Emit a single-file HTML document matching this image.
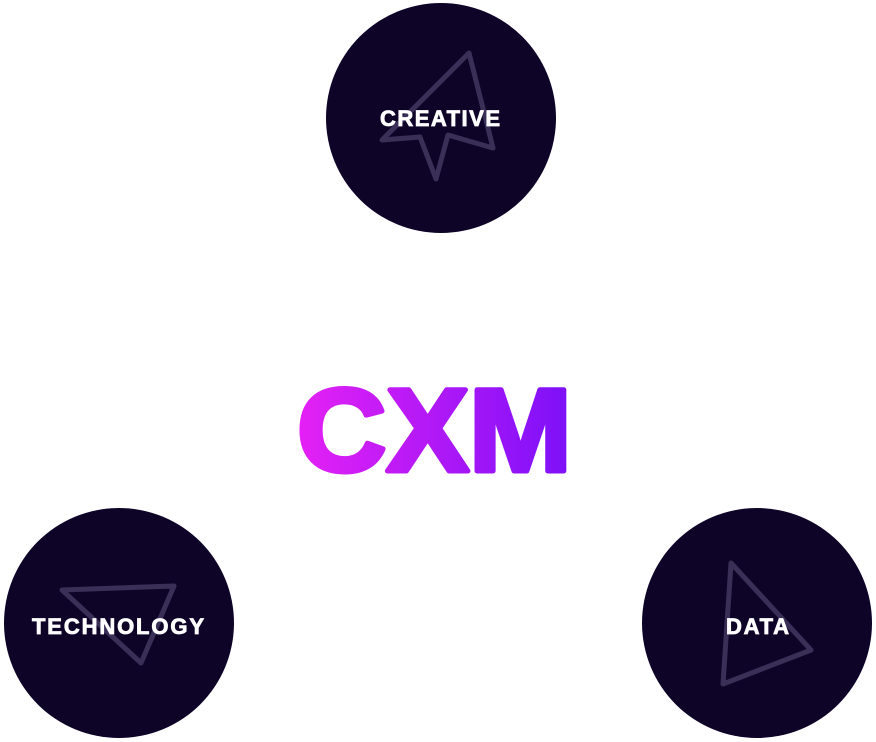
<!DOCTYPE html>
<html><head><meta charset="utf-8"><style>
html,body{margin:0;padding:0;background:#fff;width:876px;height:742px;overflow:hidden}
</style></head><body>
<svg width="876" height="742" viewBox="0 0 876 742" xmlns="http://www.w3.org/2000/svg">
<defs>
<linearGradient id="g" x1="296" y1="0" x2="572" y2="0" gradientUnits="userSpaceOnUse">
<stop offset="0" stop-color="#e521f5"/><stop offset="1" stop-color="#7c10f8"/>
</linearGradient>
</defs>
<circle cx="441" cy="118" r="115" fill="#0e0428"/>
<circle cx="119" cy="623" r="115" fill="#0e0428"/>
<circle cx="757" cy="623" r="115" fill="#0e0428"/>
<g fill="none" stroke="#3a2f57" stroke-width="5" stroke-linejoin="round" stroke-linecap="round">
<path d="M469 53 L382 140 L420 137 L436 179 L448 135 L493 148 Z"/>
<path d="M62 590 L174 586 L141 663 Z"/>
<path d="M731 563 L811 650 L723 684 Z"/>
</g>
<g font-family="Liberation Sans, sans-serif" font-weight="bold" fill="#fff" stroke="#fff" stroke-width="0.8" font-size="22" lengthAdjust="spacingAndGlyphs">
<text x="380" y="126" textLength="120">CREATIVE</text>
<text x="32" y="634" textLength="172">TECHNOLOGY</text>
<text x="726" y="634" textLength="63">DATA</text>
</g>
<text x="297" y="471" font-family="Liberation Sans, sans-serif" font-weight="bold" font-size="118" fill="url(#g)" stroke="url(#g)" stroke-width="5" stroke-linejoin="round" textLength="275" lengthAdjust="spacingAndGlyphs">CXM</text>
</svg>
</body></html>
